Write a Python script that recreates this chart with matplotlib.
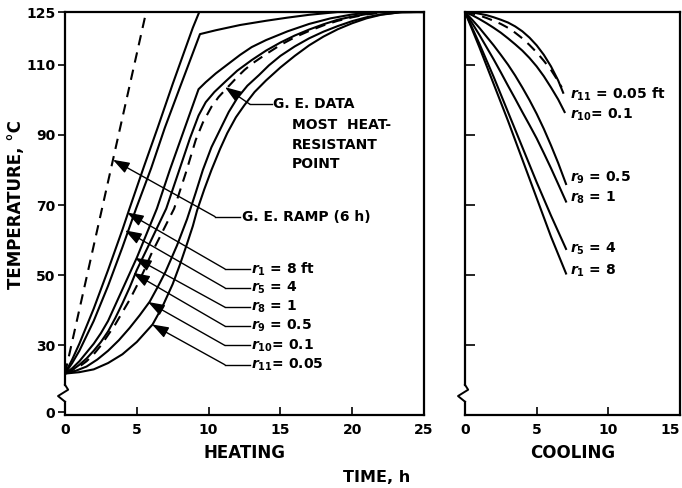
import matplotlib
matplotlib.use("Agg")
import matplotlib.pyplot as plt

# ---------------- data ----------------
# Heating panel: time (h) and temperature (deg C)
heat_ramp_t = [0, 5.65]
heat_ramp_T = [22, 125]

heat_r1_t = [0, 0.5, 1, 2, 3, 4, 4.45, 5.5, 6.45, 7.5, 8.9, 9.35, 25]
heat_r1_T = [22, 26, 30.5, 40.5, 51.5, 63, 68.5, 81, 92, 104.5, 120.5, 125, 125]

heat_r5_t = [0, 0.5, 1, 2, 3, 4, 4.95, 6, 6.95, 8, 9.4, 10.5, 12.2, 14, 15.5, 17, 19, 25]
heat_r5_T = [22, 25, 28.5, 37, 47, 58, 69, 80.5, 92, 103.5, 118.7, 119.8, 121.3, 122.5,
             123.4, 124.2, 125, 125]

heat_r8_t = [0, 0.5, 1, 1.5, 2, 2.5, 3, 3.5, 4, 4.5, 5, 5.7, 6.4, 7.3, 8.3, 9.3, 9.8,
             10.5, 11.3, 12.2, 13, 14, 15.5, 17, 18.5, 20, 21.5, 25]
heat_r8_T = [22, 23.5, 25.5, 28, 30.5, 33.5, 37, 41.5, 46, 50.5, 55, 62, 69, 80, 91.5,
             103, 105, 107.5, 110, 112.8, 115, 117, 119.5, 121.6, 123.2, 124.3, 125, 125]

heat_r9_t = [0, 0.5, 1, 1.5, 2, 2.5, 3, 3.5, 4, 4.5, 5, 6, 7.05, 8, 8.7, 9.3, 9.8, 10.4,
             11.2, 12, 13, 14, 15, 16, 17, 18, 19, 20, 21, 22, 25]
heat_r9_T = [22, 23, 24.5, 26.3, 28.5, 31, 34, 37.8, 42, 46.5, 51.5, 60, 69, 80.5, 89,
             95.5, 99.3, 102.2, 105.3, 108.3, 111.3, 114, 116.3, 118.3, 120, 121.5,
             122.8, 123.7, 124.4, 125, 125]

heat_ge_t = [0, 1, 1.5, 2, 2.5, 3, 3.5, 4, 4.5, 5, 5.5, 6, 6.8, 7.6, 8.4, 9.1, 9.6, 10.2,
             10.7, 11.2, 12, 12.5, 13, 14, 15, 16, 17, 18, 19, 20, 21, 22.5, 25]
heat_ge_T = [22, 24, 25.5, 27.5, 30, 33, 36, 39.5, 43, 47, 51.3, 56, 62.5, 69, 79, 88.5,
             93.5, 98, 100.8, 103, 106.5, 108.5, 110.2, 113, 115.6, 117.8, 119.6, 121.2,
             122.5, 123.5, 124.3, 125, 125]

heat_r10_t = [0, 0.75, 1.5, 2.25, 3, 3.75, 4.5, 5.2, 5.9, 6.5, 7, 7.8, 8.5, 9.1, 9.6,
              10.2, 10.8, 11.4, 12, 12.7, 13.5, 14.2, 15, 16, 17, 18, 19, 20, 21, 22,
              23.5, 25]
heat_r10_T = [22, 22.8, 24, 26, 28.5, 31.5, 35, 38.6, 42.5, 47, 51, 58.5, 66, 73.5, 80,
              86.5, 91.5, 96.5, 100.5, 104, 107, 109.8, 112.5, 115.2, 117.5, 119.4, 121,
              122.4, 123.5, 124.3, 125, 125]

heat_r11_t = [0, 1, 2, 3, 4, 5, 6.1, 6.8, 7.5, 8, 8.5, 8.9, 9.2, 9.7, 10.2, 10.8, 11.3,
              11.9, 12.5, 13.2, 14, 15, 16, 17, 18, 19, 20, 21, 22, 23.3, 24.5, 25]
heat_r11_T = [22, 22.4, 23.2, 25, 27.5, 31, 36, 41.2, 47.5, 53, 59, 64, 68.5, 74.5, 80,
              86, 90.5, 95, 98.5, 102.2, 105.5, 109.2, 112.5, 115.5, 118, 120.1, 121.8,
              123.2, 124.2, 124.9, 125, 125]

# Cooling panel
cool_t = [0, 0.5, 1, 1.5, 2, 2.5, 3, 3.5, 4, 4.5, 5, 5.5, 6, 6.5]
cool_r11_t = cool_t + [6.85]
cool_r11_T = [125, 124.9, 124.5, 124.1, 123.5, 122.8, 122, 120.9, 119.5, 117.7, 115.5,
              112.8, 109.5, 105.5, 102]
cool_ge_t = cool_t + [6.75]
cool_ge_T = [125, 124.6, 124, 123.3, 122.5, 121.6, 120.5, 119.1, 117.5, 115.6, 113.5,
             111.1, 108.5, 105.3, 103.5]
cool_r10_t = cool_t + [6.95]
cool_r10_T = [125, 124.1, 123, 121.8, 120.5, 119.1, 117.5, 115.8, 114, 111.9, 109.5,
              106.7, 103.5, 100.1, 96.5]
cool_r9_t = cool_t + [7.05]
cool_r9_T = [125, 122.8, 120.5, 118, 115.5, 112.8, 110, 106.9, 103.5, 99.9, 96, 91.7,
             87, 82, 76]
cool_r8_t = cool_t + [7.05]
cool_r8_T = [125, 121.8, 118.5, 115, 111.5, 107.8, 104, 100.3, 96.5, 92.8, 89, 84.8,
             80.5, 76, 71]
cool_r5_t = [0, 1, 2, 3, 4, 5, 6, 7.05]
cool_r5_T = [125, 116, 106.5, 96.5, 86.5, 76.5, 67, 57.5]
cool_r1_t = [0, 1, 2, 3, 4, 5, 6, 7.05]
cool_r1_T = [125, 115, 104.5, 94, 83, 72, 61, 50.5]

heat_xticks = [0, 5, 10, 15, 20, 25]
cool_xticks = [0, 5, 10, 15]
y_ticks = [30, 50, 70, 90, 110, 125]
y_ticklabels = ["30", "50", "70", "90", "110", "125"]

heat_labels = [r"$r_{1}$ = 8 ft", r"$r_{5}$ = 4", r"$r_{8}$ = 1",
               r"$r_{9}$ = 0.5", r"$r_{10}$= 0.1", r"$r_{11}$= 0.05"]
cool_labels = [r"$r_{11}$ = 0.05 ft", r"$r_{10}$= 0.1", r"$r_{9}$ = 0.5",
               r"$r_{8}$ = 1", r"$r_{5}$ = 4", r"$r_{1}$ = 8"]

# ---------------- layout ----------------
W, H = 682, 488
plt.rcParams['font.family'] = ['DejaVu Sans']
plt.rcParams['font.weight'] = 'bold'
plt.rcParams['mathtext.fontset'] = 'custom'
plt.rcParams['mathtext.rm'] = 'DejaVu Sans:bold'
plt.rcParams['mathtext.it'] = 'DejaVu Sans:italic:bold'
plt.rcParams['mathtext.bf'] = 'DejaVu Sans:bold'
fig = plt.figure(figsize=(W / 100, H / 100), dpi=100)

YMIN, YMAX = 10.2, 125
axL = fig.add_axes([65 / W, 1 - 415 / H, 359 / W, 403 / H])
axR = fig.add_axes([465 / W, 1 - 415 / H, 215 / W, 403 / H])

LW = 1.5
K = 'black'
FS_T = 10
FS_A = 10
DASH = (0, (5, 3.5))

# heating curves
axL.plot(heat_ramp_t, heat_ramp_T, color=K, lw=LW, ls=DASH)
for t, T in [(heat_r1_t, heat_r1_T), (heat_r5_t, heat_r5_T), (heat_r8_t, heat_r8_T),
             (heat_r9_t, heat_r9_T), (heat_r10_t, heat_r10_T), (heat_r11_t, heat_r11_T)]:
    axL.plot(t, T, color=K, lw=LW, solid_joinstyle='round')
axL.plot(heat_ge_t, heat_ge_T, color=K, lw=LW, ls=DASH)

# cooling curves
for t, T in [(cool_r11_t, cool_r11_T), (cool_r10_t, cool_r10_T), (cool_r9_t, cool_r9_T),
             (cool_r8_t, cool_r8_T), (cool_r5_t, cool_r5_T), (cool_r1_t, cool_r1_T)]:
    axR.plot(t, T, color=K, lw=LW, solid_joinstyle='round')
axR.plot(cool_ge_t, cool_ge_T, color=K, lw=LW, ls=DASH)

for ax, xmax, xt in [(axL, 25, heat_xticks), (axR, 15, cool_xticks)]:
    ax.set_xlim(0, xmax)
    ax.set_ylim(YMIN, YMAX)
    ax.set_xticks(xt)
    ax.set_xticklabels([str(v) for v in xt], fontsize=FS_T, fontweight='bold')
    for s in ax.spines.values():
        s.set_linewidth(1.6)
    ax.spines['left'].set_visible(False)
    ax.tick_params(axis='x', direction='in', length=6, width=1.2, pad=6)

axR.get_xticklabels()[-1].set_horizontalalignment('right')

axL.set_yticks([YMIN + 0.8] + y_ticks)
axL.set_yticklabels(["0"] + y_ticklabels, fontsize=FS_T, fontweight='bold')
axL.tick_params(axis='y', direction='out', length=5, width=1.2, pad=2)
axR.set_yticks(y_ticks[:-1])
axR.set_yticklabels([])
axR.tick_params(axis='y', direction='in', length=7, width=1.2)

# broken left spine with zigzag
for ax in (axL, axR):
    wpx = ax.get_position().width * W
    d = 7.0 / wpx
    tr = ax.get_yaxis_transform()
    ax.plot([0, 0], [YMIN, 14.0], color=K, lw=1.6, transform=tr, clip_on=False)
    ax.plot([0, 0], [18.8, YMAX], color=K, lw=1.6, transform=tr, clip_on=False)
    ax.plot([0, 0.45 * d, -d, 0], [18.8, 17.4, 15.6, 14.0], color=K, lw=1.4,
            transform=tr, clip_on=False)

axL.set_xlabel("HEATING", fontsize=12, labelpad=5, fontweight='bold')
axR.set_xlabel("COOLING", fontsize=12, labelpad=5, fontweight='bold')
fig.text(377 / W, 1 - 478 / H, "TIME, h", fontsize=11.5, ha='center', va='center',
         fontweight='bold')
fig.text(16 / W, 1 - 205 / H, "TEMPERATURE, °C", fontsize=12, rotation=90,
         ha='center', va='center', fontweight='bold')

# arrows with leaders (heating)
ap = dict(arrowstyle='-|>,head_length=1.0,head_width=0.35', color=K, lw=1.0,
          shrinkA=0, shrinkB=0)
tips = [(4.32, 67.9), (4.18, 62.8), (4.87, 55.0), (4.74, 50.7), (5.78, 42.4), (6.06, 36.0)]
label_y = [51.8, 46.4, 40.9, 35.5, 30.0, 24.5]
for (tx, ty), ly, lab in zip(tips, label_y, heat_labels):
    axL.annotate('', xy=(tx, ty), xytext=(11.14, ly), arrowprops=ap)
    axL.plot([11.14, 12.88], [ly, ly], color=K, lw=1.0)
    axL.text(12.95, ly, lab, fontsize=FS_A, ha='left', va='center')

# G.E. ramp
axL.annotate('', xy=(3.34, 82.9), xytext=(10.45, 66.7), arrowprops=ap)
axL.plot([10.45, 12.19], [66.7, 66.7], color=K, lw=1.0)
axL.text(12.35, 66.7, "G. E. RAMP (6 h)", fontsize=FS_A, ha='left', va='center')

# G.E. data
axL.annotate('', xy=(11.14, 103.6), xytext=(12.88, 98.7), arrowprops=ap)
axL.plot([12.88, 14.4], [98.7, 98.7], color=K, lw=1.0)
axL.text(14.5, 98.7, "G. E. DATA", fontsize=FS_A, ha='left', va='center')
for yy, s in zip([92.9, 87.2, 81.7], ["MOST  HEAT-", "RESISTANT", "POINT"]):
    axL.text(15.8, yy, s, fontsize=FS_A, ha='left', va='center')

# cooling labels
cool_label_y = [101.6, 95.8, 77.7, 72.0, 57.6, 51.3]
for ly, lab in zip(cool_label_y, cool_labels):
    axR.text(7.3, ly, lab, fontsize=FS_A, ha='left', va='center')

fig.savefig("out.png", dpi=100)
